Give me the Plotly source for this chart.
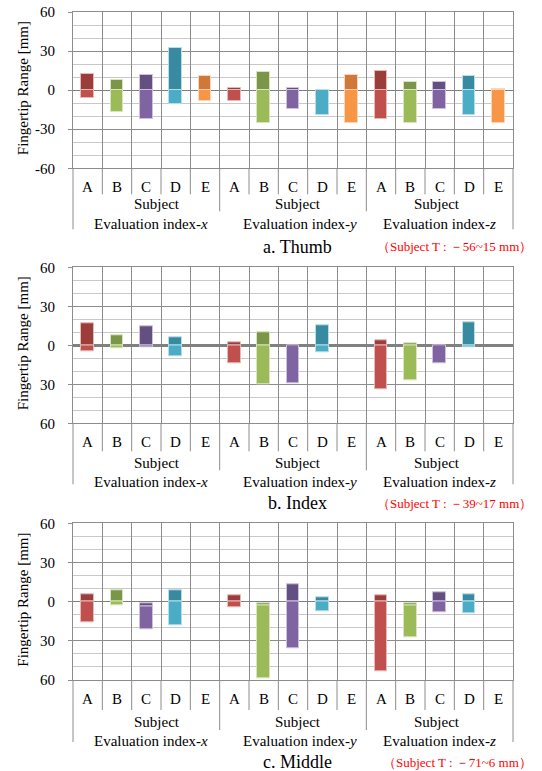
import plotly.graph_objects as go

W, H = 542, 771

subjects = ["A", "B", "C", "D", "E"]
index_names = ["x", "y", "z"]

# Fingertip ranges [mm] per category (index-x A..E, index-y A..E, index-z A..E)
# Dark segment runs from *_split up to *_top, light segment from *_bottom up to *_split.
thumb_top    = [12.5, 8, 11.5, 32, 10.5,   2, 14, 1.5, 0, 11.5,   14.5, 6.5, 6, 11, 1]
thumb_split  = [0, 0, 0, 0, 0,   0, 0, 0, 0, 0,   0, 0, 0, 0, 0]
thumb_bottom = [-6, -16.5, -22.5, -11, -8.5,   -8.5, -25, -14.5, -19, -25,   -22, -25, -14.5, -19, -25]

index_top    = [17, 8, 15, 6, None,   2, 10, 0, 15.5, None,   3.5, 1.5, 0, 17.5, None]
index_split  = [0, 0, 0, 0, None,   0, 0, 0, 0, None,   0, 0, 0, 0, None]
index_bottom = [-4.5, -2.5, -1.5, -8.5, None,   -14, -30, -29, -5.5, None,   -33.5, -27, -14, -1.5, None]

middle_top    = [6, 8.5, -1, 8.5, None,   5, -1, 13, 3.5, None,   4.5, -1, 7.5, 5.5, None]
middle_split  = [0, 0, -3.5, 0, None,   0, -2.5, 0, 0, None,   0, -3, 0, 0, None]
middle_bottom = [-16, -3, -21.5, -18, None,   -4, -59, -36, -7.5, None,   -53, -27, -8, -9, None]

tick_vals = [60, 30, 0, -30, -60]
ticks_signed = ["60", "30", "0", "-30", "-60"]
ticks_abs = ["60", "30", "0", "30", "60"]

captions = ["a. Thumb", "b. Index", "c. Middle"]
notes = ["（Subject T : －56~15 mm）", "（Subject T : －39~17 mm）", "（Subject T : －71~6 mm）"]

dark_colors  = ["#9B3D3B", "#7A9646", "#644F82", "#378AA0", "#D0783A"]
light_colors = ["#C0504D", "#9BBB59", "#8064A2", "#4BACC6", "#F79646"]
edge_colors  = ["#E6B9B8", "#D7E4BD", "#CCC1DA", "#B7DEE8", "#FCD5B5"]

FONT = "Liberation Serif"
GRID = "#8C8C8C"

# pixel layout of each panel: plot top/bottom, label rows, line drops below plot
panels = [
    dict(top=thumb_top, split=thumb_split, bottom=thumb_bottom, ticks=ticks_signed,
         py0=12.0, py1=168.3, rows=(186.5, 204, 224, 247), drops=(26, 43, 61), zw=1.2),
    dict(top=index_top, split=index_split, bottom=index_bottom, ticks=ticks_abs,
         py0=267.3, py1=423.3, rows=(441.7, 463, 482, 503), drops=(28, 47, 61), zw=2.5),
    dict(top=middle_top, split=middle_split, bottom=middle_bottom, ticks=ticks_abs,
         py0=523.3, py1=680.0, rows=(699.3, 721.7, 740.7, 762), drops=(30, 50, 62), zw=1.2),
]

PX0, PX1 = 73, 513
n_cat = 15
subject_shift = [84, 225, 364]   # pixel centre of "Subject" per group
eval_shift = [78, 227, 366]      # pixel centre of "Evaluation index" per group


def py2paper(py):
    return 1 - py / H


fig = go.Figure()
shapes = []
annotations = []

for p, pan in enumerate(panels):
    xa = "x" if p == 0 else f"x{p + 1}"
    ya = "y" if p == 0 else f"y{p + 1}"
    xcenters = [i + 0.5 for i in range(n_cat)]

    dx, dy, db, dc, de = [], [], [], [], []
    lx, ly, lb, lc, le = [], [], [], [], []
    for i in range(n_cat):
        t, s, b = pan["top"][i], pan["split"][i], pan["bottom"][i]
        if t is None:
            continue
        k = i % 5
        if t > s:
            dx.append(xcenters[i]); dy.append(t - s); db.append(s)
            dc.append(dark_colors[k]); de.append(edge_colors[k])
        if s > b:
            lx.append(xcenters[i]); ly.append(s - b); lb.append(b)
            lc.append(light_colors[k]); le.append(edge_colors[k])

    for xs, ys, bs, cs, es in [(lx, ly, lb, lc, le), (dx, dy, db, dc, de)]:
        fig.add_trace(go.Bar(
            x=xs, y=ys, base=bs, width=0.44,
            marker=dict(color=cs, line=dict(color=es, width=1)),
            xaxis=xa, yaxis=ya, showlegend=False, hoverinfo="skip",
        ))

    dom = [py2paper(pan["py1"]), py2paper(pan["py0"])]
    xkey = "xaxis" if p == 0 else f"xaxis{p + 1}"
    ykey = "yaxis" if p == 0 else f"yaxis{p + 1}"
    fig.update_layout(**{
        xkey: dict(
            domain=[PX0 / W, PX1 / W], range=[0, n_cat], anchor=ya,
            tickmode="array", tickvals=list(range(n_cat + 1)),
            showticklabels=False, ticks="", showgrid=True, gridcolor=GRID,
            gridwidth=1, zeroline=False, showline=True, linecolor=GRID,
            linewidth=1, mirror=True, automargin=False, fixedrange=True,
        ),
        ykey: dict(
            domain=dom, range=[-60, 60], anchor=xa,
            tickmode="array", tickvals=tick_vals, ticktext=pan["ticks"],
            ticks="outside", ticklen=4, tickcolor=GRID, ticklabelstandoff=10,
            tickfont=dict(family=FONT, size=15, color="#000"),
            showgrid=True, gridcolor=GRID, gridwidth=1,
            minor=dict(tickmode="linear", tick0=0, dtick=10, showgrid=True,
                       gridcolor="#C8C8C8", gridwidth=1, ticks=""),
            zeroline=True, zerolinecolor="#808080", zerolinewidth=pan["zw"],
            showline=True, linecolor=GRID, linewidth=1, mirror=True,
            automargin=False, fixedrange=True,
        ),
    })

    # separator lines below the plot area
    d_cat, d_grp, d_out = pan["drops"]
    for k in range(n_cat + 1):
        if k in (0, n_cat):
            drop = d_out
        elif k % 5 == 0:
            drop = d_grp
        else:
            drop = d_cat
        shapes.append(dict(
            type="line", xref=f"{xa} domain", yref="paper",
            x0=k / n_cat, x1=k / n_cat,
            y0=py2paper(pan["py1"]), y1=py2paper(pan["py1"] + drop),
            line=dict(color=GRID, width=1),
        ))

    r_let, r_sub, r_eval, r_cap = pan["rows"]
    for i in range(n_cat):
        annotations.append(dict(
            x=xcenters[i], xref=xa, y=py2paper(r_let), yref="paper",
            text=subjects[i % 5], showarrow=False, xanchor="center", yanchor="middle",
            font=dict(family=FONT, size=15, color="#000"),
        ))
    for g in range(3):
        annotations.append(dict(
            x=(PX0 + subject_shift[g]) / W, xref="paper", y=py2paper(r_sub), yref="paper",
            text="Subject", showarrow=False, xanchor="center", yanchor="middle",
            font=dict(family=FONT, size=15, color="#000"),
        ))
        annotations.append(dict(
            x=(PX0 + eval_shift[g]) / W, xref="paper", y=py2paper(r_eval), yref="paper",
            text=f"Evaluation index-<i>{index_names[g]}</i>", showarrow=False,
            xanchor="center", yanchor="middle",
            font=dict(family=FONT, size=15, color="#000"),
        ))
    annotations.append(dict(
        x=297 / W, xref="paper", y=py2paper(r_cap), yref="paper",
        text=captions[p], showarrow=False, xanchor="center", yanchor="middle",
        font=dict(family=FONT, size=18, color="#000"),
    ))
    annotations.append(dict(
        x=534 / W, xref="paper", y=py2paper(r_cap), yref="paper",
        text=notes[p], showarrow=False, xanchor="right", yanchor="middle",
        font=dict(family=FONT, size=13, color="#FF0000"),
    ))
    annotations.append(dict(
        x=23 / W, xref="paper", y=py2paper((pan["py0"] + pan["py1"]) / 2 - 2), yref="paper",
        text="Fingertip Range [mm]", showarrow=False, textangle=-90,
        xanchor="center", yanchor="middle",
        font=dict(family=FONT, size=15, color="#000"),
    ))

fig.update_layout(
    width=W, height=H, margin=dict(l=0, r=0, t=0, b=0),
    paper_bgcolor="white", plot_bgcolor="white",
    barmode="overlay", bargap=0, showlegend=False,
    shapes=shapes, annotations=annotations,
    font=dict(family=FONT, size=15, color="#000"),
)

fig.write_html("out.html")
